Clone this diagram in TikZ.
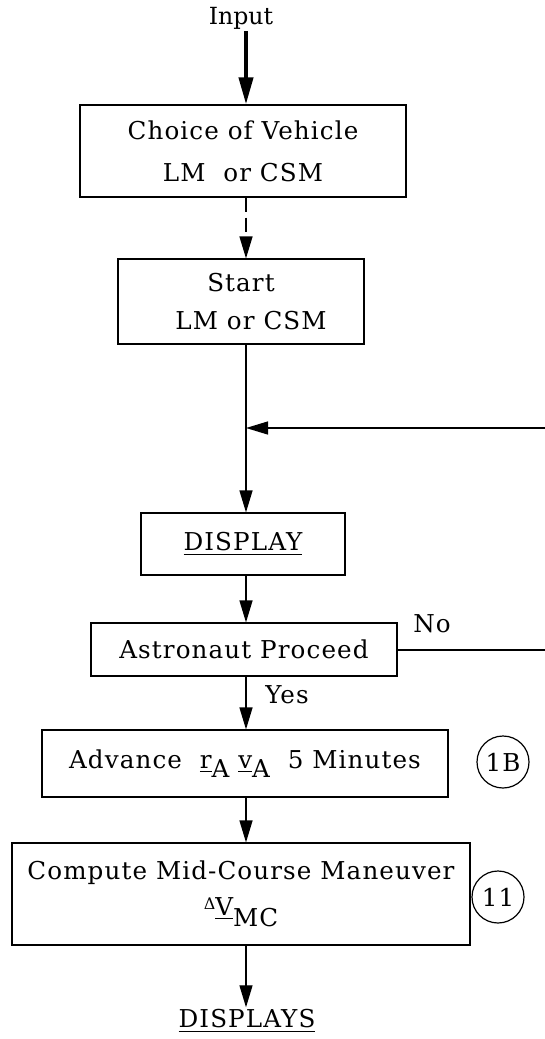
\documentclass[tikz,border=0pt]{standalone}
\usepackage{fontspec}
\setmainfont{DejaVu Serif}
\newfontfamily\lsfont{DejaVu Serif}[LetterSpace=4.5]
\usetikzlibrary{arrows.meta}
\tikzset{
  txt/.style={font=\fontsize{12.3}{20}\selectfont\lsfont},
  box/.style={draw, line width=0.6pt, txt, align=center, inner sep=0pt, anchor=center},
  arr/.style={line width=0.65pt, -{Triangle[length=11pt,width=6.5pt]}},
  ring/.style={draw, circle, line width=0.6pt, minimum size=26pt, inner sep=0pt, txt},
}
\begin{document}
\begin{tikzpicture}[x=0.5pt,y=-0.5pt]
\useasboundingbox (0,0) rectangle (545,1039);
\coordinate (spine) at (246,0);
\node[font=\fontsize{11.8}{14}\selectfont, inner sep=1pt] (input) at (241,18) {Input};
\node[box, minimum width=163pt, minimum height=46pt, font=\fontsize{12.3}{21}\selectfont\lsfont] (choice) at (243,151) {Choice of Vehicle\\LM\ \ or CSM};
\node[box, minimum width=123pt, minimum height=42.5pt, font=\fontsize{12.3}{19}\selectfont\lsfont] (start) at (241,301.5) {Start\\\hspace*{10pt}LM or CSM};
\node[box, minimum width=102pt, minimum height=31pt] (disp) at (243,544) {\underline{DISPLAY}};
\node[box, minimum width=153pt, minimum height=26.5pt] (ast) at (244,649.5) {Astronaut Proceed};
\node[box, minimum width=203pt, minimum height=33.5pt] (adv) at (245,763.5) {Advance \ \underline{r}\raisebox{-0.35em}{A} \underline{v}\raisebox{-0.35em}{A} \ 5 Minutes};
\node[box, minimum width=229pt, minimum height=51pt, font=\fontsize{12.3}{18}\selectfont\lsfont] (comp) at (241,894) {Compute Mid-Course Maneuver\\\raisebox{0.25em}{\footnotesize Δ}\underline{V}\raisebox{-0.45em}{MC}};
\node[txt, inner sep=1pt] (disps) at (247,1021) {\underline{DISPLAYS}};
\node[ring] (c1b) at (503,762) {1B};
\node[ring] (c11) at (498,897) {11};
\node[txt, inner sep=0pt] (no) at (432,624) {No};
\node[txt, inner sep=0pt] (yes) at (287,695) {Yes};
\coordinate (fb) at (246,428);
\coordinate (edge) at (548,650);
% connectors
\draw[line width=2pt, -{Triangle[length=13.5pt,width=7pt]}] (input.south -| spine) -- (choice.north -| spine);
\draw[arr, dash pattern=on 7pt off 3pt] (choice.south -| spine) -- (start.north -| spine);
\draw[arr] (start.south -| spine) -- (disp.north -| spine);
\draw[arr] (disp.south -| spine) -- (ast.north -| spine);
\draw[arr] (ast.south -| spine) -- (adv.north -| spine);
\draw[arr] (adv.south -| spine) -- (comp.north -| spine);
\draw[arr] (comp.south -| spine) -- (disps.north -| spine);
\draw[arr] (ast.east |- edge) -- (edge) |- (fb);
\end{tikzpicture}
\end{document}
